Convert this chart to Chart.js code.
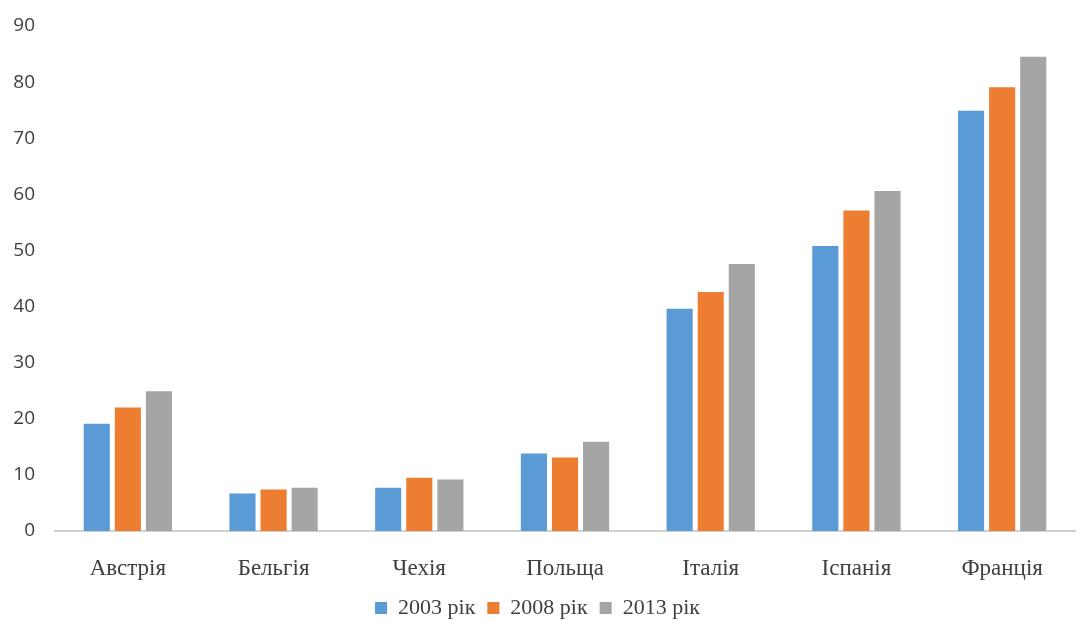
<!DOCTYPE html>
<html>
<head>
<meta charset="utf-8">
<script src="https://cdn.jsdelivr.net/npm/chart.js@4/dist/chart.umd.min.js"></script>
<style>
html,body{margin:0;padding:0;background:#fff;}
#wrap{width:1086px;height:621px;position:relative;}
</style>
</head>
<body>
<div id="wrap"><canvas id="c" width="1086" height="621"></canvas></div>
<script>
const categories = ["Австрія","Бельгія","Чехія","Польща","Італія","Іспанія","Франція"];
const seriesNames = ["2003 рік","2008 рік","2013 рік"];
const values2003 = [19.1, 6.7, 7.7, 13.8, 39.6, 50.8, 74.9];
const values2008 = [22.0, 7.4, 9.5, 13.1, 42.6, 57.1, 79.1];
const values2013 = [24.9, 7.7, 9.2, 15.9, 47.6, 60.6, 84.5];
const yTicks = [0,10,20,30,40,50,60,70,80,90];
const colors = ["#5b9bd5","#ed7d31","#a5a5a5"];

const serif = "'Liberation Serif','Times New Roman',serif";
new Chart(document.getElementById('c'), {
  type: 'bar',
  data: {
    labels: categories,
    datasets: [values2003, values2008, values2013].map((v,i)=>({
      label: seriesNames[i],
      data: v,
      backgroundColor: colors[i],
      borderWidth: 0,
      categoryPercentage: 0.64,
      barPercentage: 0.84
    }))
  },
  options: {
    responsive: false,
    animation: false,
    layout: { padding: { top: 26, right: 11, left: 0, bottom: -8 } },
    plugins: {
      legend: {
        position: 'bottom',
        labels: {
          boxWidth: 12, boxHeight: 12, padding: 12,
          color: '#404040',
          font: { family: serif, size: 22, lineHeight: 1 }
        }
      },
      tooltip: { enabled: false }
    },
    scales: {
      x: {
        grid: { display: false, drawTicks: false },
        border: { color: '#d0d0d0', width: 2 },
        ticks: { color: '#404040', font: { family: serif, size: 23, lineHeight: 1 }, padding: 26 },
        afterFit: (s) => { s.height = s.height - 21; }
      },
      y: {
        min: 0, max: 90,
        afterBuildTicks: (s) => { s.ticks = yTicks.map(v=>({value:v})); },
        afterFit: (s) => { s.width = 55; s.paddingTop = 0; },
        grid: { display: false, drawTicks: false },
        border: { display: false },
        ticks: {
          color: '#404040',
          font: { family: "'Open Sans', sans-serif", size: 19 },
          padding: 20
        }
      }
    }
  }
});
</script>
</body>
</html>
